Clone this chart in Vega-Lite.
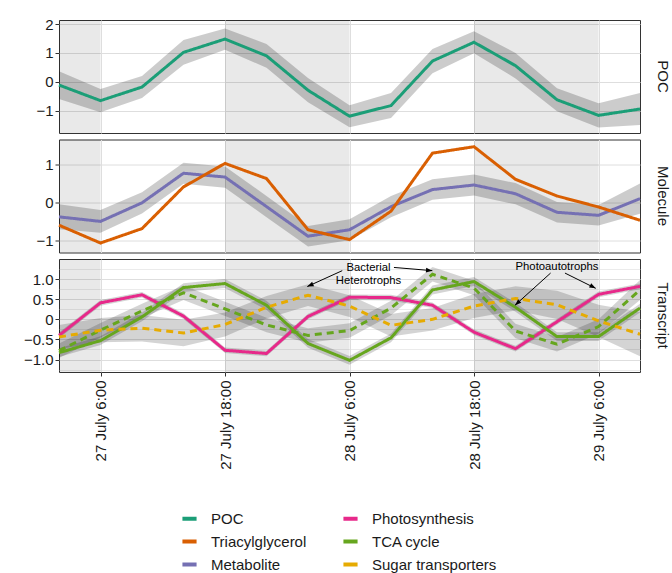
{
  "$schema": "https://vega.github.io/schema/vega-lite/v6.json",
  "background": "white",
  "padding": {"left": 22, "top": 16, "right": 5, "bottom": 5},
  "spacing": 4.5,
  "config": {
    "font": "Liberation Sans",
    "view": {"stroke": "#333333", "strokeWidth": 1},
    "axis": {"labelFont": "Liberation Sans", "labelFontSize": 15, "labelColor": "#1a1a1a", "tickColor": "#333333", "tickSize": 4, "labelPadding": 2, "domain": false, "gridColor": "#dedede", "gridWidth": 1, "titleFont": "Liberation Sans", "labelOverlap": false, "labelBound": false, "labelFlush": false},
    "title": {"font": "Liberation Sans", "fontSize": 15, "fontWeight": "normal", "color": "#1a1a1a", "orient": "right", "anchor": "middle", "offset": 9},
    "legend": {"labelFont": "Liberation Sans", "title": null, "orient": "none", "legendX": 121, "legendY": 489, "columns": 2, "symbolType": "stroke", "symbolStrokeWidth": 4, "symbolSize": 200, "labelFontSize": 15, "labelColor": "#1a1a1a", "labelOffset": 12, "rowPadding": 5, "columnPadding": 28}
  },
  "datasets": {
    "night": [
      {"start": "2017-07-27T02:00", "end": "2017-07-27T06:00"},
      {"start": "2017-07-27T18:00", "end": "2017-07-28T06:00"},
      {"start": "2017-07-28T18:00", "end": "2017-07-29T06:00"}
    ],
    "series": [
      {"p": "POC", "s": "POC", "g": "Bulk", "t": "2017-07-27T02:00", "v": -0.11, "lo": -0.59, "hi": 0.37},
      {"p": "POC", "s": "POC", "g": "Bulk", "t": "2017-07-27T06:00", "v": -0.65, "lo": -1.05, "hi": -0.25},
      {"p": "POC", "s": "POC", "g": "Bulk", "t": "2017-07-27T10:00", "v": -0.18, "lo": -0.56, "hi": 0.2},
      {"p": "POC", "s": "POC", "g": "Bulk", "t": "2017-07-27T14:00", "v": 1.02, "lo": 0.59, "hi": 1.45},
      {"p": "POC", "s": "POC", "g": "Bulk", "t": "2017-07-27T18:00", "v": 1.48, "lo": 1.11, "hi": 1.85},
      {"p": "POC", "s": "POC", "g": "Bulk", "t": "2017-07-27T22:00", "v": 0.9, "lo": 0.49, "hi": 1.31},
      {"p": "POC", "s": "POC", "g": "Bulk", "t": "2017-07-28T02:00", "v": -0.29, "lo": -0.71, "hi": 0.13},
      {"p": "POC", "s": "POC", "g": "Bulk", "t": "2017-07-28T06:00", "v": -1.19, "lo": -1.57, "hi": -0.81},
      {"p": "POC", "s": "POC", "g": "Bulk", "t": "2017-07-28T10:00", "v": -0.82, "lo": -1.25, "hi": -0.39},
      {"p": "POC", "s": "POC", "g": "Bulk", "t": "2017-07-28T14:00", "v": 0.72, "lo": 0.3, "hi": 1.14},
      {"p": "POC", "s": "POC", "g": "Bulk", "t": "2017-07-28T18:00", "v": 1.37, "lo": 0.99, "hi": 1.75},
      {"p": "POC", "s": "POC", "g": "Bulk", "t": "2017-07-28T22:00", "v": 0.56, "lo": 0.12, "hi": 1.0},
      {"p": "POC", "s": "POC", "g": "Bulk", "t": "2017-07-29T02:00", "v": -0.62, "lo": -1.02, "hi": -0.22},
      {"p": "POC", "s": "POC", "g": "Bulk", "t": "2017-07-29T06:00", "v": -1.16, "lo": -1.58, "hi": -0.74},
      {"p": "POC", "s": "POC", "g": "Bulk", "t": "2017-07-29T10:00", "v": -0.94, "lo": -1.49, "hi": -0.39},

      {"p": "Molecule", "s": "Metabolite", "g": "Bulk", "t": "2017-07-27T02:00", "v": -0.37, "lo": -0.7, "hi": -0.04},
      {"p": "Molecule", "s": "Metabolite", "g": "Bulk", "t": "2017-07-27T06:00", "v": -0.49, "lo": -0.79, "hi": -0.19},
      {"p": "Molecule", "s": "Metabolite", "g": "Bulk", "t": "2017-07-27T10:00", "v": 0.0, "lo": -0.28, "hi": 0.28},
      {"p": "Molecule", "s": "Metabolite", "g": "Bulk", "t": "2017-07-27T14:00", "v": 0.78, "lo": 0.5, "hi": 1.06},
      {"p": "Molecule", "s": "Metabolite", "g": "Bulk", "t": "2017-07-27T18:00", "v": 0.68, "lo": 0.4, "hi": 0.96},
      {"p": "Molecule", "s": "Metabolite", "g": "Bulk", "t": "2017-07-27T22:00", "v": -0.1, "lo": -0.38, "hi": 0.18},
      {"p": "Molecule", "s": "Metabolite", "g": "Bulk", "t": "2017-07-28T02:00", "v": -0.88, "lo": -1.15, "hi": -0.61},
      {"p": "Molecule", "s": "Metabolite", "g": "Bulk", "t": "2017-07-28T06:00", "v": -0.71, "lo": -0.99, "hi": -0.43},
      {"p": "Molecule", "s": "Metabolite", "g": "Bulk", "t": "2017-07-28T10:00", "v": -0.1, "lo": -0.38, "hi": 0.18},
      {"p": "Molecule", "s": "Metabolite", "g": "Bulk", "t": "2017-07-28T14:00", "v": 0.35, "lo": 0.08, "hi": 0.62},
      {"p": "Molecule", "s": "Metabolite", "g": "Bulk", "t": "2017-07-28T18:00", "v": 0.47, "lo": 0.19, "hi": 0.75},
      {"p": "Molecule", "s": "Metabolite", "g": "Bulk", "t": "2017-07-28T22:00", "v": 0.24, "lo": -0.04, "hi": 0.52},
      {"p": "Molecule", "s": "Metabolite", "g": "Bulk", "t": "2017-07-29T02:00", "v": -0.25, "lo": -0.52, "hi": 0.02},
      {"p": "Molecule", "s": "Metabolite", "g": "Bulk", "t": "2017-07-29T06:00", "v": -0.33, "lo": -0.6, "hi": -0.06},
      {"p": "Molecule", "s": "Metabolite", "g": "Bulk", "t": "2017-07-29T10:00", "v": 0.11, "lo": -0.29, "hi": 0.51},

      {"p": "Molecule", "s": "Triacylglycerol", "g": "Bulk", "t": "2017-07-27T02:00", "v": -0.59, "lo": null, "hi": null},
      {"p": "Molecule", "s": "Triacylglycerol", "g": "Bulk", "t": "2017-07-27T06:00", "v": -1.06, "lo": null, "hi": null},
      {"p": "Molecule", "s": "Triacylglycerol", "g": "Bulk", "t": "2017-07-27T10:00", "v": -0.68, "lo": null, "hi": null},
      {"p": "Molecule", "s": "Triacylglycerol", "g": "Bulk", "t": "2017-07-27T14:00", "v": 0.42, "lo": null, "hi": null},
      {"p": "Molecule", "s": "Triacylglycerol", "g": "Bulk", "t": "2017-07-27T18:00", "v": 1.04, "lo": null, "hi": null},
      {"p": "Molecule", "s": "Triacylglycerol", "g": "Bulk", "t": "2017-07-27T22:00", "v": 0.64, "lo": null, "hi": null},
      {"p": "Molecule", "s": "Triacylglycerol", "g": "Bulk", "t": "2017-07-28T02:00", "v": -0.71, "lo": null, "hi": null},
      {"p": "Molecule", "s": "Triacylglycerol", "g": "Bulk", "t": "2017-07-28T06:00", "v": -0.97, "lo": null, "hi": null},
      {"p": "Molecule", "s": "Triacylglycerol", "g": "Bulk", "t": "2017-07-28T10:00", "v": -0.22, "lo": null, "hi": null},
      {"p": "Molecule", "s": "Triacylglycerol", "g": "Bulk", "t": "2017-07-28T14:00", "v": 1.31, "lo": null, "hi": null},
      {"p": "Molecule", "s": "Triacylglycerol", "g": "Bulk", "t": "2017-07-28T18:00", "v": 1.48, "lo": null, "hi": null},
      {"p": "Molecule", "s": "Triacylglycerol", "g": "Bulk", "t": "2017-07-28T22:00", "v": 0.62, "lo": null, "hi": null},
      {"p": "Molecule", "s": "Triacylglycerol", "g": "Bulk", "t": "2017-07-29T02:00", "v": 0.18, "lo": null, "hi": null},
      {"p": "Molecule", "s": "Triacylglycerol", "g": "Bulk", "t": "2017-07-29T06:00", "v": -0.11, "lo": null, "hi": null},
      {"p": "Molecule", "s": "Triacylglycerol", "g": "Bulk", "t": "2017-07-29T10:00", "v": -0.46, "lo": null, "hi": null},

      {"p": "Transcript", "s": "Photosynthesis", "g": "Photoautotrophs", "t": "2017-07-27T02:00", "v": -0.4, "lo": -0.47, "hi": -0.33},
      {"p": "Transcript", "s": "Photosynthesis", "g": "Photoautotrophs", "t": "2017-07-27T06:00", "v": 0.41, "lo": 0.34, "hi": 0.48},
      {"p": "Transcript", "s": "Photosynthesis", "g": "Photoautotrophs", "t": "2017-07-27T10:00", "v": 0.61, "lo": 0.54, "hi": 0.68},
      {"p": "Transcript", "s": "Photosynthesis", "g": "Photoautotrophs", "t": "2017-07-27T14:00", "v": 0.08, "lo": 0.01, "hi": 0.15},
      {"p": "Transcript", "s": "Photosynthesis", "g": "Photoautotrophs", "t": "2017-07-27T18:00", "v": -0.77, "lo": -0.84, "hi": -0.7},
      {"p": "Transcript", "s": "Photosynthesis", "g": "Photoautotrophs", "t": "2017-07-27T22:00", "v": -0.85, "lo": -0.92, "hi": -0.78},
      {"p": "Transcript", "s": "Photosynthesis", "g": "Photoautotrophs", "t": "2017-07-28T02:00", "v": 0.07, "lo": 0.0, "hi": 0.14},
      {"p": "Transcript", "s": "Photosynthesis", "g": "Photoautotrophs", "t": "2017-07-28T06:00", "v": 0.55, "lo": 0.48, "hi": 0.62},
      {"p": "Transcript", "s": "Photosynthesis", "g": "Photoautotrophs", "t": "2017-07-28T10:00", "v": 0.54, "lo": 0.47, "hi": 0.61},
      {"p": "Transcript", "s": "Photosynthesis", "g": "Photoautotrophs", "t": "2017-07-28T14:00", "v": 0.35, "lo": 0.28, "hi": 0.42},
      {"p": "Transcript", "s": "Photosynthesis", "g": "Photoautotrophs", "t": "2017-07-28T18:00", "v": -0.32, "lo": -0.39, "hi": -0.25},
      {"p": "Transcript", "s": "Photosynthesis", "g": "Photoautotrophs", "t": "2017-07-28T22:00", "v": -0.73, "lo": -0.8, "hi": -0.66},
      {"p": "Transcript", "s": "Photosynthesis", "g": "Photoautotrophs", "t": "2017-07-29T02:00", "v": -0.06, "lo": -0.13, "hi": 0.01},
      {"p": "Transcript", "s": "Photosynthesis", "g": "Photoautotrophs", "t": "2017-07-29T06:00", "v": 0.62, "lo": 0.55, "hi": 0.69},
      {"p": "Transcript", "s": "Photosynthesis", "g": "Photoautotrophs", "t": "2017-07-29T10:00", "v": 0.82, "lo": 0.75, "hi": 0.89},

      {"p": "Transcript", "s": "TCA cycle", "g": "Photoautotrophs", "t": "2017-07-27T02:00", "v": -0.83, "lo": -0.94, "hi": -0.72},
      {"p": "Transcript", "s": "TCA cycle", "g": "Photoautotrophs", "t": "2017-07-27T06:00", "v": -0.53, "lo": -0.64, "hi": -0.42},
      {"p": "Transcript", "s": "TCA cycle", "g": "Photoautotrophs", "t": "2017-07-27T10:00", "v": 0.06, "lo": -0.05, "hi": 0.17},
      {"p": "Transcript", "s": "TCA cycle", "g": "Photoautotrophs", "t": "2017-07-27T14:00", "v": 0.79, "lo": 0.68, "hi": 0.9},
      {"p": "Transcript", "s": "TCA cycle", "g": "Photoautotrophs", "t": "2017-07-27T18:00", "v": 0.89, "lo": 0.78, "hi": 1.0},
      {"p": "Transcript", "s": "TCA cycle", "g": "Photoautotrophs", "t": "2017-07-27T22:00", "v": 0.35, "lo": 0.24, "hi": 0.46},
      {"p": "Transcript", "s": "TCA cycle", "g": "Photoautotrophs", "t": "2017-07-28T02:00", "v": -0.6, "lo": -0.71, "hi": -0.49},
      {"p": "Transcript", "s": "TCA cycle", "g": "Photoautotrophs", "t": "2017-07-28T06:00", "v": -1.02, "lo": -1.13, "hi": -0.91},
      {"p": "Transcript", "s": "TCA cycle", "g": "Photoautotrophs", "t": "2017-07-28T10:00", "v": -0.46, "lo": -0.57, "hi": -0.35},
      {"p": "Transcript", "s": "TCA cycle", "g": "Photoautotrophs", "t": "2017-07-28T14:00", "v": 0.73, "lo": 0.62, "hi": 0.84},
      {"p": "Transcript", "s": "TCA cycle", "g": "Photoautotrophs", "t": "2017-07-28T18:00", "v": 0.94, "lo": 0.83, "hi": 1.05},
      {"p": "Transcript", "s": "TCA cycle", "g": "Photoautotrophs", "t": "2017-07-28T22:00", "v": 0.3, "lo": 0.19, "hi": 0.41},
      {"p": "Transcript", "s": "TCA cycle", "g": "Photoautotrophs", "t": "2017-07-29T02:00", "v": -0.43, "lo": -0.54, "hi": -0.32},
      {"p": "Transcript", "s": "TCA cycle", "g": "Photoautotrophs", "t": "2017-07-29T06:00", "v": -0.43, "lo": -0.54, "hi": -0.32},
      {"p": "Transcript", "s": "TCA cycle", "g": "Photoautotrophs", "t": "2017-07-29T10:00", "v": 0.28, "lo": 0.17, "hi": 0.39},

      {"p": "Transcript", "s": "TCA cycle", "g": "Bacterial heterotrophs", "t": "2017-07-27T02:00", "v": -0.78, "lo": -0.96, "hi": -0.6},
      {"p": "Transcript", "s": "TCA cycle", "g": "Bacterial heterotrophs", "t": "2017-07-27T06:00", "v": -0.27, "lo": -0.45, "hi": -0.09},
      {"p": "Transcript", "s": "TCA cycle", "g": "Bacterial heterotrophs", "t": "2017-07-27T10:00", "v": 0.21, "lo": 0.03, "hi": 0.39},
      {"p": "Transcript", "s": "TCA cycle", "g": "Bacterial heterotrophs", "t": "2017-07-27T14:00", "v": 0.66, "lo": 0.48, "hi": 0.84},
      {"p": "Transcript", "s": "TCA cycle", "g": "Bacterial heterotrophs", "t": "2017-07-27T18:00", "v": 0.26, "lo": 0.08, "hi": 0.44},
      {"p": "Transcript", "s": "TCA cycle", "g": "Bacterial heterotrophs", "t": "2017-07-27T22:00", "v": -0.14, "lo": -0.32, "hi": 0.04},
      {"p": "Transcript", "s": "TCA cycle", "g": "Bacterial heterotrophs", "t": "2017-07-28T02:00", "v": -0.4, "lo": -0.58, "hi": -0.22},
      {"p": "Transcript", "s": "TCA cycle", "g": "Bacterial heterotrophs", "t": "2017-07-28T06:00", "v": -0.28, "lo": -0.46, "hi": -0.1},
      {"p": "Transcript", "s": "TCA cycle", "g": "Bacterial heterotrophs", "t": "2017-07-28T10:00", "v": 0.28, "lo": 0.1, "hi": 0.46},
      {"p": "Transcript", "s": "TCA cycle", "g": "Bacterial heterotrophs", "t": "2017-07-28T14:00", "v": 1.12, "lo": 0.94, "hi": 1.3},
      {"p": "Transcript", "s": "TCA cycle", "g": "Bacterial heterotrophs", "t": "2017-07-28T18:00", "v": 0.78, "lo": 0.6, "hi": 0.96},
      {"p": "Transcript", "s": "TCA cycle", "g": "Bacterial heterotrophs", "t": "2017-07-28T22:00", "v": -0.29, "lo": -0.47, "hi": -0.11},
      {"p": "Transcript", "s": "TCA cycle", "g": "Bacterial heterotrophs", "t": "2017-07-29T02:00", "v": -0.62, "lo": -0.8, "hi": -0.44},
      {"p": "Transcript", "s": "TCA cycle", "g": "Bacterial heterotrophs", "t": "2017-07-29T06:00", "v": -0.18, "lo": -0.36, "hi": 0.0},
      {"p": "Transcript", "s": "TCA cycle", "g": "Bacterial heterotrophs", "t": "2017-07-29T10:00", "v": 0.73, "lo": 0.48, "hi": 0.98},

      {"p": "Transcript", "s": "Sugar transporters", "g": "Bacterial heterotrophs", "t": "2017-07-27T02:00", "v": -0.44, "lo": -0.74, "hi": -0.14},
      {"p": "Transcript", "s": "Sugar transporters", "g": "Bacterial heterotrophs", "t": "2017-07-27T06:00", "v": -0.27, "lo": -0.57, "hi": 0.03},
      {"p": "Transcript", "s": "Sugar transporters", "g": "Bacterial heterotrophs", "t": "2017-07-27T10:00", "v": -0.22, "lo": -0.55, "hi": 0.11},
      {"p": "Transcript", "s": "Sugar transporters", "g": "Bacterial heterotrophs", "t": "2017-07-27T14:00", "v": -0.34, "lo": -0.67, "hi": -0.01},
      {"p": "Transcript", "s": "Sugar transporters", "g": "Bacterial heterotrophs", "t": "2017-07-27T18:00", "v": -0.13, "lo": -0.43, "hi": 0.17},
      {"p": "Transcript", "s": "Sugar transporters", "g": "Bacterial heterotrophs", "t": "2017-07-27T22:00", "v": 0.3, "lo": 0.02, "hi": 0.58},
      {"p": "Transcript", "s": "Sugar transporters", "g": "Bacterial heterotrophs", "t": "2017-07-28T02:00", "v": 0.6, "lo": 0.33, "hi": 0.87},
      {"p": "Transcript", "s": "Sugar transporters", "g": "Bacterial heterotrophs", "t": "2017-07-28T06:00", "v": 0.33, "lo": 0.06, "hi": 0.6},
      {"p": "Transcript", "s": "Sugar transporters", "g": "Bacterial heterotrophs", "t": "2017-07-28T10:00", "v": -0.15, "lo": -0.43, "hi": 0.13},
      {"p": "Transcript", "s": "Sugar transporters", "g": "Bacterial heterotrophs", "t": "2017-07-28T14:00", "v": 0.0, "lo": -0.28, "hi": 0.28},
      {"p": "Transcript", "s": "Sugar transporters", "g": "Bacterial heterotrophs", "t": "2017-07-28T18:00", "v": 0.33, "lo": 0.03, "hi": 0.63},
      {"p": "Transcript", "s": "Sugar transporters", "g": "Bacterial heterotrophs", "t": "2017-07-28T22:00", "v": 0.52, "lo": 0.22, "hi": 0.82},
      {"p": "Transcript", "s": "Sugar transporters", "g": "Bacterial heterotrophs", "t": "2017-07-29T02:00", "v": 0.36, "lo": 0.01, "hi": 0.71},
      {"p": "Transcript", "s": "Sugar transporters", "g": "Bacterial heterotrophs", "t": "2017-07-29T06:00", "v": -0.04, "lo": -0.44, "hi": 0.36},
      {"p": "Transcript", "s": "Sugar transporters", "g": "Bacterial heterotrophs", "t": "2017-07-29T10:00", "v": -0.37, "lo": -0.92, "hi": 0.18}
    ],
    "notes": [
      {"t": "2017-07-28T07:50", "v": 1.27, "text": "Bacterial"},
      {"t": "2017-07-28T07:50", "v": 0.96, "text": "Heterotrophs"},
      {"t": "2017-07-29T02:00", "v": 1.29, "text": "Photoautotrophs"}
    ],
    "arrows": [
      {"id": "a1", "t": "2017-07-28T05:18", "v": 1.21, "t2": "2017-07-28T01:56", "v2": 0.815},
      {"id": "a2", "t": "2017-07-28T10:17", "v": 1.29, "t2": "2017-07-28T13:59", "v2": 1.21},
      {"id": "a3", "t": "2017-07-29T01:23", "v": 1.15, "t2": "2017-07-28T21:57", "v2": 0.35},
      {"id": "a4", "t": "2017-07-29T02:46", "v": 1.15, "t2": "2017-07-29T05:44", "v2": 0.77}
    ]
  },
  "vconcat": [
    {
      "width": 581, "height": 113,
      "title": {"text": "POC"},
      "layer": [
        {
          "data": {"name": "night"},
          "mark": {"type": "rect", "color": "#000000", "opacity": 0.085},
          "encoding": {
            "x": {"field": "start", "type": "temporal",
              "scale": {"domain": [{"year": 2017, "month": 7, "date": 27, "hours": 2}, {"year": 2017, "month": 7, "date": 29, "hours": 10}]},
              "axis": {"title": null, "labels": false, "ticks": false, "grid": true, "tickCount": 30,
                "values": [{"year": 2017, "month": 7, "date": 27, "hours": 6}, {"year": 2017, "month": 7, "date": 27, "hours": 18}, {"year": 2017, "month": 7, "date": 28, "hours": 6}, {"year": 2017, "month": 7, "date": 28, "hours": 18}, {"year": 2017, "month": 7, "date": 29, "hours": 6}]}},
            "x2": {"field": "end"}
          }
        },
        {
          "data": {"name": "series"},
          "transform": [{"filter": "datum.p === 'POC' && datum.lo != null"}],
          "mark": {"type": "area", "color": "#000000", "opacity": 0.2},
          "encoding": {
            "x": {"field": "t", "type": "temporal"},
            "y": {"field": "lo", "type": "quantitative",
              "scale": {"domain": [-1.77, 2.14], "nice": false, "zero": false},
              "axis": {"title": null, "values": [-1, 0, 1, 2], "tickCount": 30, "format": "d", "grid": true}},
            "y2": {"field": "hi"},
            "detail": {"field": "s"}
          }
        },
        {
          "data": {"name": "series"},
          "transform": [{"filter": "datum.p === 'POC'"}],
          "mark": {"type": "line", "strokeWidth": 3},
          "encoding": {
            "x": {"field": "t", "type": "temporal"},
            "y": {"field": "v", "type": "quantitative"},
            "color": {"field": "s", "type": "nominal",
              "scale": {"domain": ["POC", "Triacylglycerol", "Metabolite", "Photosynthesis", "TCA cycle", "Sugar transporters"], "range": ["#1B9E77", "#D95F02", "#7570B3", "#E7298A", "#66A61E", "#E6AB02"]}},
            "strokeDash": {"field": "g", "type": "nominal", "scale": {"domain": ["Bulk", "Photoautotrophs", "Bacterial heterotrophs"], "range": [[1, 0], [1, 0], [7, 5]]}, "legend": null}
          }
        }
      ]
    },
    {
      "width": 581, "height": 113,
      "title": {"text": "Molecule"},
      "layer": [
        {
          "data": {"name": "night"},
          "mark": {"type": "rect", "color": "#000000", "opacity": 0.085},
          "encoding": {
            "x": {"field": "start", "type": "temporal",
              "scale": {"domain": [{"year": 2017, "month": 7, "date": 27, "hours": 2}, {"year": 2017, "month": 7, "date": 29, "hours": 10}]},
              "axis": {"title": null, "labels": false, "ticks": false, "grid": true, "tickCount": 30,
                "values": [{"year": 2017, "month": 7, "date": 27, "hours": 6}, {"year": 2017, "month": 7, "date": 27, "hours": 18}, {"year": 2017, "month": 7, "date": 28, "hours": 6}, {"year": 2017, "month": 7, "date": 28, "hours": 18}, {"year": 2017, "month": 7, "date": 29, "hours": 6}]}},
            "x2": {"field": "end"}
          }
        },
        {
          "data": {"name": "series"},
          "transform": [{"filter": "datum.p === 'Molecule' && datum.lo != null"}],
          "mark": {"type": "area", "color": "#000000", "opacity": 0.2},
          "encoding": {
            "x": {"field": "t", "type": "temporal"},
            "y": {"field": "lo", "type": "quantitative",
              "scale": {"domain": [-1.31, 1.67], "nice": false, "zero": false},
              "axis": {"title": null, "values": [-1, -0.5, 0, 0.5, 1, 1.5], "tickCount": 30, "format": "d", "grid": true,
                "labelExpr": "datum.value % 1 === 0 ? datum.label : ''",
                "tickOpacity": {"condition": {"test": "datum.value % 1 !== 0", "value": 0}, "value": 1},
                "gridWidth": {"condition": {"test": "datum.value % 1 !== 0", "value": 0.6}, "value": 1}}},
            "y2": {"field": "hi"},
            "detail": {"field": "s"}
          }
        },
        {
          "data": {"name": "series"},
          "transform": [{"filter": "datum.p === 'Molecule'"}],
          "mark": {"type": "line", "strokeWidth": 3},
          "encoding": {
            "x": {"field": "t", "type": "temporal"},
            "y": {"field": "v", "type": "quantitative"},
            "color": {"field": "s", "type": "nominal",
              "scale": {"domain": ["POC", "Triacylglycerol", "Metabolite", "Photosynthesis", "TCA cycle", "Sugar transporters"], "range": ["#1B9E77", "#D95F02", "#7570B3", "#E7298A", "#66A61E", "#E6AB02"]}},
            "strokeDash": {"field": "g", "type": "nominal", "scale": {"domain": ["Bulk", "Photoautotrophs", "Bacterial heterotrophs"], "range": [[1, 0], [1, 0], [7, 5]]}, "legend": null}
          }
        }
      ]
    },
    {
      "width": 581, "height": 113,
      "title": {"text": "Transcript"},
      "layer": [
        {
          "data": {"name": "night"},
          "mark": {"type": "rect", "color": "#000000", "opacity": 0.085},
          "encoding": {
            "x": {"field": "start", "type": "temporal",
              "scale": {"domain": [{"year": 2017, "month": 7, "date": 27, "hours": 2}, {"year": 2017, "month": 7, "date": 29, "hours": 10}]},
              "axis": {"title": null, "grid": true, "tickCount": 30, "format": "%-d %B %-H:%M", "labelAngle": -90, "labelPadding": 4,
                "values": [{"year": 2017, "month": 7, "date": 27, "hours": 6}, {"year": 2017, "month": 7, "date": 27, "hours": 18}, {"year": 2017, "month": 7, "date": 28, "hours": 6}, {"year": 2017, "month": 7, "date": 28, "hours": 18}, {"year": 2017, "month": 7, "date": 29, "hours": 6}]}},
            "x2": {"field": "end"}
          }
        },
        {
          "data": {"name": "series"},
          "transform": [{"filter": "datum.p === 'Transcript' && datum.lo != null"}],
          "mark": {"type": "area", "color": "#000000", "opacity": 0.17},
          "encoding": {
            "x": {"field": "t", "type": "temporal"},
            "y": {"field": "lo", "type": "quantitative",
              "scale": {"domain": [-1.31, 1.5], "nice": false, "zero": false},
              "axis": {"title": null, "values": [-1.25, -1, -0.75, -0.5, -0.25, 0, 0.25, 0.5, 0.75, 1, 1.25], "tickCount": 30, "grid": true,
                "labelExpr": "datum.value % 0.5 === 0 ? (datum.value === 0 ? '0' : format(datum.value, '.1f')) : ''",
                "tickOpacity": {"condition": {"test": "datum.value % 0.5 !== 0", "value": 0}, "value": 1},
                "gridWidth": {"condition": {"test": "datum.value % 0.5 !== 0", "value": 0.6}, "value": 1}}},
            "y2": {"field": "hi"},
            "detail": [{"field": "s"}, {"field": "g"}]
          }
        },
        {
          "data": {"name": "series"},
          "transform": [{"filter": "datum.p === 'Transcript'"}],
          "mark": {"type": "line", "strokeWidth": 3},
          "encoding": {
            "x": {"field": "t", "type": "temporal"},
            "y": {"field": "v", "type": "quantitative"},
            "color": {"field": "s", "type": "nominal",
              "scale": {"domain": ["POC", "Triacylglycerol", "Metabolite", "Photosynthesis", "TCA cycle", "Sugar transporters"], "range": ["#1B9E77", "#D95F02", "#7570B3", "#E7298A", "#66A61E", "#E6AB02"]}},
            "strokeDash": {"field": "g", "type": "nominal", "scale": {"domain": ["Bulk", "Photoautotrophs", "Bacterial heterotrophs"], "range": [[1, 0], [1, 0], [7, 5]]}, "legend": null}
          }
        },
        {
          "data": {"name": "arrows"},
          "mark": {"type": "rule", "color": "#000000", "strokeWidth": 1},
          "encoding": {
            "x": {"field": "t", "type": "temporal"},
            "x2": {"field": "t2"},
            "y": {"field": "v", "type": "quantitative"},
            "y2": {"field": "v2"}
          }
        },
        {
          "data": {"name": "arrows"},
          "transform": [{"filter": "datum.id === 'a1'"}],
          "mark": {"type": "point", "shape": "M0,0L-0.75,2L0.75,2Z", "filled": true, "color": "#000000", "opacity": 1, "size": 40, "angle": 246},
          "encoding": {"x": {"field": "t2", "type": "temporal"}, "y": {"field": "v2", "type": "quantitative"}}
        },
        {
          "data": {"name": "arrows"},
          "transform": [{"filter": "datum.id === 'a2'"}],
          "mark": {"type": "point", "shape": "M0,0L-0.75,2L0.75,2Z", "filled": true, "color": "#000000", "opacity": 1, "size": 40, "angle": 95},
          "encoding": {"x": {"field": "t2", "type": "temporal"}, "y": {"field": "v2", "type": "quantitative"}}
        },
        {
          "data": {"name": "arrows"},
          "transform": [{"filter": "datum.id === 'a3'"}],
          "mark": {"type": "point", "shape": "M0,0L-0.75,2L0.75,2Z", "filled": true, "color": "#000000", "opacity": 1, "size": 40, "angle": 228},
          "encoding": {"x": {"field": "t2", "type": "temporal"}, "y": {"field": "v2", "type": "quantitative"}}
        },
        {
          "data": {"name": "arrows"},
          "transform": [{"filter": "datum.id === 'a4'"}],
          "mark": {"type": "point", "shape": "M0,0L-0.75,2L0.75,2Z", "filled": true, "color": "#000000", "opacity": 1, "size": 40, "angle": 117},
          "encoding": {"x": {"field": "t2", "type": "temporal"}, "y": {"field": "v2", "type": "quantitative"}}
        },
        {
          "data": {"name": "notes"},
          "mark": {"type": "text", "font": "Liberation Sans", "fontSize": 11.3, "color": "#000000", "align": "center", "baseline": "middle"},
          "encoding": {
            "x": {"field": "t", "type": "temporal"},
            "y": {"field": "v", "type": "quantitative"},
            "text": {"field": "text"}
          }
        }
      ]
    }
  ]
}
